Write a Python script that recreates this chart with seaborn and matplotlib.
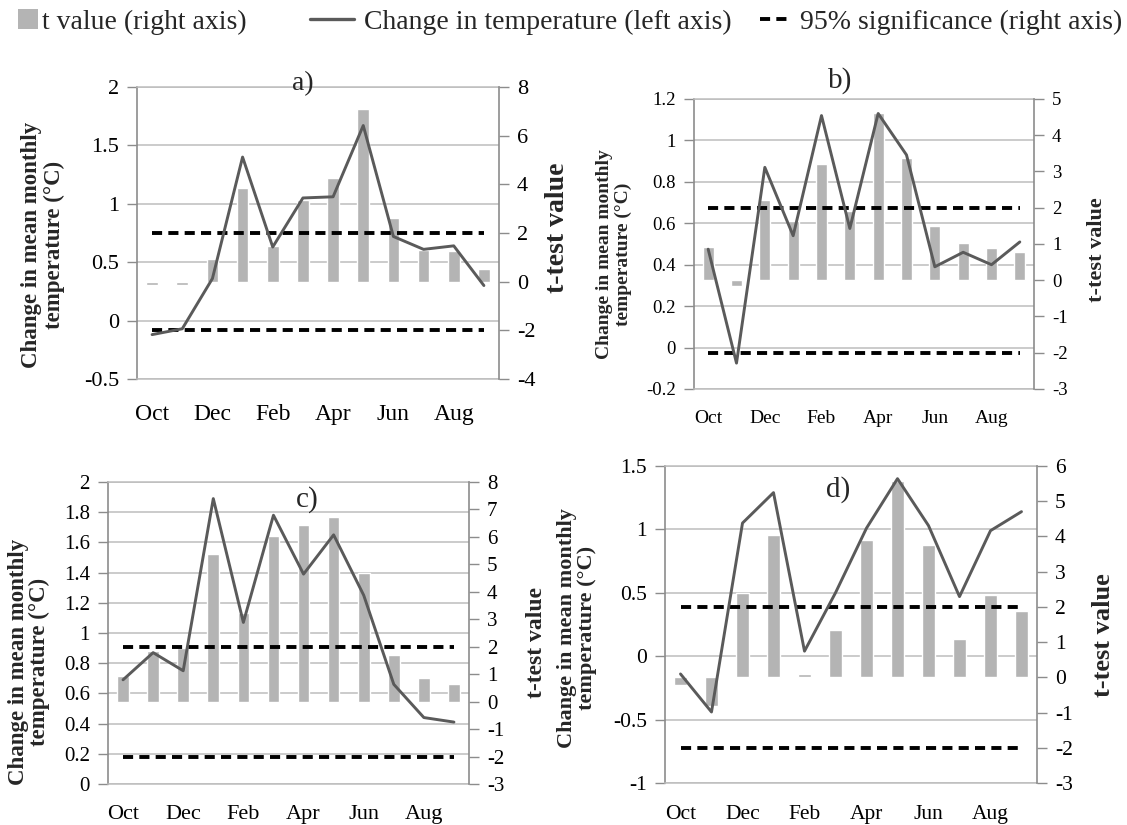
import numpy as np
import pandas as pd
import matplotlib
matplotlib.use("Agg")
import matplotlib.pyplot as plt
import seaborn as sns
from matplotlib.lines import Line2D
from matplotlib.patches import Patch
from matplotlib.ticker import FuncFormatter

# ---------------- data ----------------
months = ["Oct", "Nov", "Dec", "Jan", "Feb", "Mar",
          "Apr", "May", "Jun", "Jul", "Aug", "Sep"]

# change in mean monthly temperature (left axis, degC)
a_temp = [-0.12, -0.07, 0.36, 1.40, 0.63, 1.05, 1.06, 1.67, 0.72, 0.61, 0.64, 0.30]
b_temp = [0.475, -0.075, 0.87, 0.54, 1.12, 0.575, 1.13, 0.93, 0.39, 0.46, 0.40, 0.51]
c_temp = [0.69, 0.87, 0.75, 1.89, 1.07, 1.78, 1.39, 1.65, 1.25, 0.66, 0.44, 0.41]
d_temp = [-0.14, -0.44, 1.05, 1.29, 0.04, 0.50, 1.01, 1.40, 1.03, 0.47, 0.99, 1.14]

# t-test values (right axis)
a_t = [-0.15, -0.15, 0.93, 3.86, 1.45, 3.35, 4.24, 7.10, 2.63, 1.30, 1.28, 0.52]
b_t = [0.91, -0.15, 2.22, 1.63, 3.22, 1.90, 4.62, 3.38, 1.50, 1.04, 0.90, 0.78]
c_t = [0.94, 1.85, 1.95, 5.36, 3.24, 6.03, 6.43, 6.73, 4.70, 1.69, 0.85, 0.64]
d_t = [-0.23, -0.80, 2.39, 4.03, 0.10, 1.34, 3.90, 5.58, 3.75, 1.10, 2.33, 1.88]

# 95 % significance thresholds of the t statistic
sig_upper = 2
sig_lower = -2

# axis ticks
a_left_ticks = [-0.5, 0, 0.5, 1, 1.5, 2]
a_right_ticks = [-4, -2, 0, 2, 4, 6, 8]
b_left_ticks = [-0.2, 0, 0.2, 0.4, 0.6, 0.8, 1, 1.2]
b_right_ticks = [-3, -2, -1, 0, 1, 2, 3, 4, 5]
c_left_ticks = [0, 0.2, 0.4, 0.6, 0.8, 1, 1.2, 1.4, 1.6, 1.8, 2]
c_right_ticks = [-3, -2, -1, 0, 1, 2, 3, 4, 5, 6, 7, 8]
d_left_ticks = [-1, -0.5, 0, 0.5, 1, 1.5]
d_right_ticks = [-3, -2, -1, 0, 1, 2, 3, 4, 5, 6]

panel_titles = ["a)", "b)", "c)", "d)"]
left_label = "Change in mean monthly\ntemperature (°C)"
right_label = "t-test value"

# ---------------- style ----------------
sns.set_theme(style="white")
plt.rcParams["font.family"] = ["Liberation Serif", "DejaVu Serif"]
plt.rcParams["axes.unicode_minus"] = False

BAR = "#b4b4b4"
LINE = "#5a5a5a"
GRID = "#bdbdbd"
SPINE = "#8c8c8c"
DASH = (0, (2.6, 1.6))

W, H = 1127, 825
fig = plt.figure(figsize=(W / 100, H / 100), dpi=100)


def rect(l, t, r, b):
    return [l / W, 1 - b / H, (r - l) / W, (b - t) / H]


def fig_xy(x, y):
    return x / W, 1 - y / H


fmt = FuncFormatter(lambda v, _: f"{round(v, 6) + 0:g}")

panels = [
    dict(temp=a_temp, t=a_t, lt=a_left_ticks, rt=a_right_ticks, title=panel_titles[0],
         box=(137, 87, 499, 379), tick_fs=16, xfs=17, xpad=18,
         title_xy=(303, 84), title_fs=20,
         ll_xy=(43, 245), ll_fs=16.5, ll_ls=1.15, rl_xy=(557, 228), rl_fs=20),
    dict(temp=b_temp, t=b_t, lt=b_left_ticks, rt=b_right_ticks, title=panel_titles[1],
         box=(694, 99, 1034, 389), tick_fs=13.5, xfs=14, xpad=15,
         title_xy=(840, 81), title_fs=21,
         ll_xy=(614, 254), ll_fs=14, ll_ls=1.1, rl_xy=(1097, 250), rl_fs=16),
    dict(temp=c_temp, t=c_t, lt=c_left_ticks, rt=c_right_ticks, title=panel_titles[2],
         box=(108, 482, 469, 784), tick_fs=15, xfs=16, xpad=15,
         title_xy=(307, 500), title_fs=21,
         ll_xy=(29, 662), ll_fs=16.5, ll_ls=0.95, rl_xy=(537, 643), rl_fs=17),
    dict(temp=d_temp, t=d_t, lt=d_left_ticks, rt=d_right_ticks, title=panel_titles[3],
         box=(665, 466, 1037, 783), tick_fs=15.5, xfs=15.5, xpad=16,
         title_xy=(838, 490), title_fs=21,
         ll_xy=(577, 628), ll_fs=16, ll_ls=1.0, rl_xy=(1103, 635), rl_fs=19),
]

for p in panels:
    r = rect(*p["box"])
    df = pd.DataFrame({"month": months, "idx": np.arange(len(months)),
                       "temp": p["temp"], "t": p["t"],
                       "up": [sig_upper] * len(months),
                       "low": [sig_lower] * len(months)})

    # base axes: left scale and horizontal gridlines
    ax = fig.add_axes(r)
    ax.set_zorder(1)
    # right scale: t-value columns and significance thresholds
    ax2 = ax.twinx()
    ax2.set_zorder(2)
    ax2.patch.set_visible(False)
    # top layer sharing the left scale: temperature change line
    ax3 = fig.add_axes(r, sharex=ax, sharey=ax)
    ax3.set_zorder(3)
    ax3.patch.set_visible(False)

    sns.barplot(data=df, x="month", y="t", order=months, ax=ax2, color=BAR,
                saturation=1, width=0.39, errorbar=None)
    sns.lineplot(data=df, x="idx", y="up", ax=ax2, color="black", lw=2.8,
                 linestyle=DASH, errorbar=None)
    sns.lineplot(data=df, x="idx", y="low", ax=ax2, color="black", lw=2.8,
                 linestyle=DASH, errorbar=None)
    sns.lineplot(data=df, x="idx", y="temp", ax=ax3, color=LINE, lw=2.1,
                 sort=False, errorbar=None)

    lt, rt = p["lt"], p["rt"]
    ax.set_ylim(lt[0], lt[-1])
    ax.set_yticks(lt)
    ax.yaxis.set_major_formatter(fmt)
    ax2.set_ylim(rt[0], rt[-1])
    ax2.set_yticks(rt)
    ax2.yaxis.set_major_formatter(fmt)

    ax.set_xlim(-0.5, len(months) - 0.5)
    ax.set_xticks(np.arange(0, len(months), 2))
    ax.set_xticklabels(months[::2])

    for a in (ax, ax2, ax3):
        a.set_xlabel("")
        a.set_ylabel("")
    ax3.axis("off")

    ax.yaxis.grid(True, color=GRID, lw=1.1)
    ax.xaxis.grid(False)
    ax.tick_params(axis="y", left=True, length=7, width=1, color=SPINE,
                   labelsize=p["tick_fs"], pad=6, labelcolor="black")
    ax.tick_params(axis="x", bottom=False, length=0, labelsize=p["xfs"],
                   pad=p["xpad"], labelcolor="black")
    ax2.tick_params(axis="y", right=True, length=7, width=1, color=SPINE,
                    labelsize=p["tick_fs"], pad=6, labelcolor="black")

    ax.spines["left"].set_color(SPINE)
    ax.spines["left"].set_linewidth(1.2)
    for s in ("top", "bottom"):
        ax.spines[s].set_color(GRID)
        ax.spines[s].set_linewidth(1.1)
    ax.spines["right"].set_visible(False)
    for s in ("left", "top", "bottom"):
        ax2.spines[s].set_visible(False)
    ax2.spines["right"].set_color(SPINE)
    ax2.spines["right"].set_linewidth(1.2)
    if ax2.get_legend():
        ax2.get_legend().remove()

    fig.text(*fig_xy(*p["title_xy"]), p["title"], ha="center", va="center",
             fontsize=p["title_fs"], zorder=10)
    fig.text(*fig_xy(*p["ll_xy"]), left_label, rotation=90, ha="center",
             va="center", multialignment="center", fontweight="bold",
             fontsize=p["ll_fs"], linespacing=p["ll_ls"])
    fig.text(*fig_xy(*p["rl_xy"]), right_label, rotation=90, ha="center",
             va="center", fontweight="bold", fontsize=p["rl_fs"])

# ---------------- legend across the top ----------------
LEG_FS = 20
legend_items = [
    (Patch(facecolor=BAR, edgecolor="none"), "t value (right axis)", 18, 0.72, 0.15),
    (Line2D([], [], color=LINE, lw=2.4), "Change in temperature (left axis)", 310, 1.6, 0.35),
    (Line2D([], [], color="black", lw=2.8, linestyle=DASH), "95% significance (right axis)", 760, 1.1, 0.35),
]
for handle, label, x0, hl, tp in legend_items:
    fig.legend(handles=[handle], labels=[label], loc="center left",
               bbox_to_anchor=(x0 / W, 1 - 22 / H), frameon=False,
               fontsize=LEG_FS, handlelength=hl, handleheight=0.72,
               handletextpad=tp, borderpad=0, borderaxespad=0)

fig.savefig("out.png", dpi=100)
